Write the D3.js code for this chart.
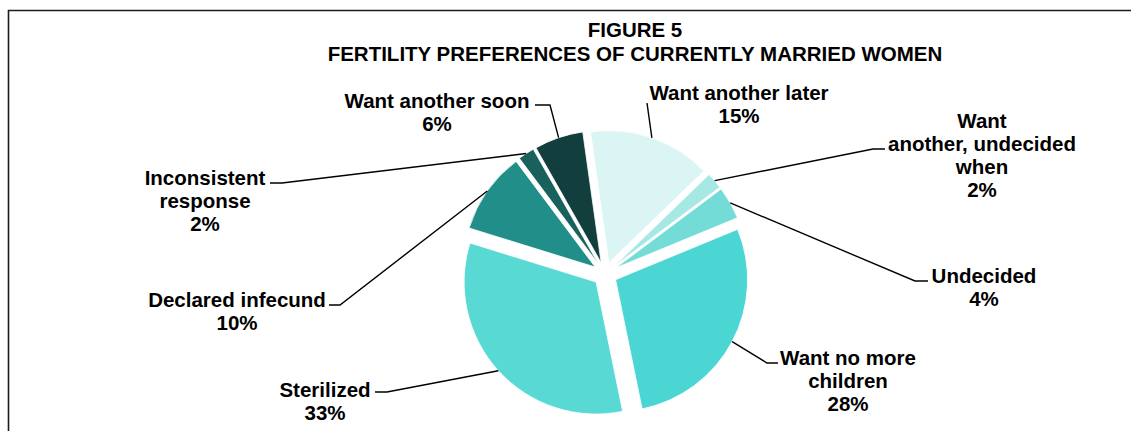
<!DOCTYPE html>
<html>
<head>
<meta charset="utf-8">
<script src="https://cdn.jsdelivr.net/npm/d3@7"></script>
<style>
  body { margin: 0; background: #fff; }
  text { font-family: "Liberation Sans", Arial, sans-serif; font-weight: bold; fill: #000; }
</style>
</head>
<body>
<svg id="chart" width="1131" height="431"></svg>
<script>
// Fertility preferences, clockwise from the top
const categories = [
  "Want another later",
  "Want another, undecided when",
  "Undecided",
  "Want no more children",
  "Sterilized",
  "Declared infecund",
  "Inconsistent response",
  "Want another soon"
];
const percentages = [15, 2, 4, 28, 33, 10, 2, 6];
const labelLines = [
  ["Want another later"],
  ["Want", "another, undecided", "when"],
  ["Undecided"],
  ["Want no more", "children"],
  ["Sterilized"],
  ["Declared infecund"],
  ["Inconsistent", "response"],
  ["Want another soon"]
];
const titleLines = ["FIGURE 5", "FERTILITY PREFERENCES OF CURRENTLY MARRIED WOMEN"];

// Styling and layout
const sliceColors = ["#daf5f3", "#a6e8e4", "#74dcd6", "#4bd5d3", "#59d9d4", "#228e8a", "#1a605d", "#123f3e"];
const labelLayout = [
  { x: 739, y: 100, elbow: [647, 103], end: null },
  { x: 982, y: 128, elbow: [873, 149], end: [885, 149] },
  { x: 984, y: 283, elbow: [915, 281], end: [928, 281] },
  { x: 848, y: 365, elbow: [767, 363], end: [778, 363] },
  { x: 325, y: 397, elbow: [387, 392], end: [375, 392] },
  { x: 237, y: 307, elbow: [340, 305], end: [329, 305] },
  { x: 205, y: 185, elbow: [282, 183], end: [270, 183] },
  { x: 437, y: 108, elbow: [550, 105], end: [535, 105] }
];
const center = [605, 274];
const radius = 132;
const explode = 12;
const lineHeight = 23;
const fontSize = 20.5;

const svg = d3.select("#chart");

// frame edges
svg.append("line").attr("x1", 8).attr("y1", 10.5).attr("x2", 1131).attr("y2", 10.5)
  .attr("stroke", "#1c1c1c").attr("stroke-width", 1.6);
svg.append("line").attr("x1", 8.5).attr("y1", 10).attr("x2", 8.5).attr("y2", 431)
  .attr("stroke", "#1c1c1c").attr("stroke-width", 1.6);

// title
svg.append("text")
  .attr("x", 635).attr("y", 37)
  .attr("text-anchor", "middle")
  .style("font-size", fontSize + "px")
  .selectAll("tspan").data(titleLines).join("tspan")
  .attr("x", 635).attr("dy", (d, i) => i === 0 ? 0 : 24)
  .text(d => d);

const startAngle = -8 * Math.PI / 180;
const pie = d3.pie().sort(null).value(d => d)
  .startAngle(startAngle).endAngle(startAngle + 2 * Math.PI);
const arcs = pie(percentages);

const arc = d3.arc().innerRadius(0).outerRadius(radius);
const rim = d3.arc().innerRadius(radius).outerRadius(radius);

function offset(d) {
  const a = (d.startAngle + d.endAngle) / 2;
  return [Math.sin(a) * explode, -Math.cos(a) * explode];
}

const g = svg.append("g").attr("transform", `translate(${center[0]},${center[1]})`);

g.selectAll("path.slice").data(arcs).join("path")
  .attr("class", "slice")
  .attr("d", arc)
  .attr("transform", d => { const o = offset(d); return `translate(${o[0]},${o[1]})`; })
  .attr("fill", (d, i) => sliceColors[i])
  .attr("stroke", "#fff").attr("stroke-width", 0.8);

// leader lines from each slice rim to its label
const line = d3.line();
svg.selectAll("path.leader").data(arcs).join("path")
  .attr("class", "leader")
  .attr("d", (d, i) => {
    const o = offset(d);
    const c = rim.centroid(d);
    const p0 = [center[0] + c[0] + o[0], center[1] + c[1] + o[1]];
    const L = labelLayout[i];
    const pts = [p0, L.elbow];
    if (L.end) pts.push(L.end);
    return line(pts);
  })
  .attr("fill", "none").attr("stroke", "#000").attr("stroke-width", 1.4);

// labels: category lines then the percentage
svg.selectAll("text.label").data(arcs).join("text")
  .attr("class", "label")
  .attr("text-anchor", "middle")
  .style("font-size", fontSize + "px")
  .each(function (d, i) {
    const L = labelLayout[i];
    const rows = labelLines[i].concat([percentages[i] + "%"]);
    d3.select(this).selectAll("tspan").data(rows).join("tspan")
      .attr("x", L.x)
      .attr("y", (r, k) => L.y + k * lineHeight)
      .text(r => r);
  });
</script>
</body>
</html>
